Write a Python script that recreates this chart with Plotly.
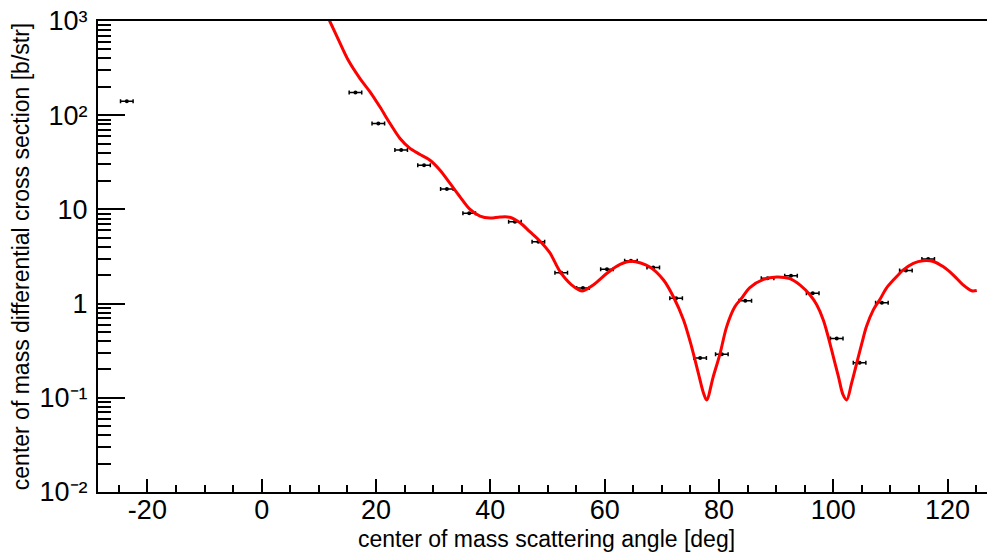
import plotly.graph_objects as go

# ---- data ----
angle = [-23.6, 16.4, 20.4, 24.4, 28.4, 32.4, 36.3, 44.3, 48.4, 52.4, 56.2, 60.4,
         64.6, 68.5, 72.5, 76.7, 80.5, 84.6, 88.5, 92.6, 96.4, 100.6, 104.6,
         108.5, 112.7, 116.6]
xsec = [141, 174, 81.7, 42.6, 29.5, 16.5, 9.08, 7.39, 4.54, 2.13, 1.46, 2.31,
        2.85, 2.41, 1.14, 0.264, 0.290, 1.07, 1.86, 1.98, 1.29, 0.425, 0.235,
        1.02, 2.24, 2.97]
angle_err = [1.1] * len(angle)

fit_angle = [10.8, 11.9, 13.5, 15.15, 17.2, 18.95, 20.7, 22.45, 24.2, 25.95, 27.7,
             29.45, 31.2, 32.95, 34.7, 36.45, 38.2, 39.95, 41.7, 43.4, 45.2, 46.9,
             48.7, 50.4, 52.2, 54.2, 56.0, 58.0, 60.4, 62.7, 64.7, 67.9, 70.3,
             72.0, 73.8, 75.2, 76.4, 77.3, 77.85, 79.0, 80.2, 81.35, 82.8, 84.0,
             85.4, 87.8, 90.1, 92.4, 94.2, 95.9, 97.1, 98.25, 99.1, 100.0, 100.9,
             101.7, 102.35, 103.2, 104.1, 105.0, 105.8, 107.0, 108.2, 109.3,
             110.8, 112.2, 114.0, 115.7, 117.5, 119.2, 121.0, 122.7, 124.2, 125.1]
fit_xsec = [1400, 1000, 620, 383, 245, 177, 122, 81.7, 56.6, 44.4, 38.3,
            33.3, 26.1, 18.9, 13.6, 10.0, 8.5, 8.1, 8.3, 8.25, 7.2, 5.8,
            4.6, 3.47, 2.18, 1.58, 1.36, 1.58, 2.1, 2.61, 2.82, 2.45, 1.78,
            1.19, 0.671, 0.35, 0.182, 0.112, 0.095, 0.168, 0.297, 0.57, 0.93, 1.15,
            1.48, 1.81, 1.92, 1.84, 1.57, 1.24, 0.97, 0.67, 0.447, 0.274, 0.168,
            0.108, 0.095, 0.143, 0.233, 0.38, 0.57, 0.857, 1.12, 1.46,
            1.86, 2.27, 2.68, 2.85, 2.80, 2.47, 2.01, 1.58, 1.37, 1.38]

x_major = [-20, 0, 20, 40, 60, 80, 100, 120]
x_minor = [-25, -15, -10, -5, 5, 10, 15, 25, 30, 35, 45, 50, 55, 65, 70, 75,
           85, 90, 95, 105, 110, 115, 125]
y_major = [0.01, 0.1, 1, 10, 100, 1000]
y_major_text = ["10\u207b\u00b2", "10\u207b\u00b9", "1", "10",
                "10\u00b2", "10\u00b3"]
y_minor = [m * d for d in [0.01, 0.1, 1, 10, 100] for m in range(2, 10)]

FONT = "Liberation Sans, Arial, Helvetica, sans-serif"

fig = go.Figure()
fig.add_trace(go.Scatter(
    x=angle, y=xsec, mode="markers",
    marker=dict(color="black", size=4, symbol="circle"),
    error_x=dict(type="data", array=angle_err, visible=True,
                 color="black", thickness=1.5, width=2),
    showlegend=False))
fig.add_trace(go.Scatter(
    x=fit_angle, y=fit_xsec, mode="lines",
    line=dict(color="#ff0000", width=3, shape="spline", smoothing=0.9),
    showlegend=False))

# the page body adds an 8 px offset, so the figure is laid out 8 px up/left
fig.update_layout(
    width=987, height=544,
    margin=dict(l=90, r=0, t=13, b=60),
    paper_bgcolor="white", plot_bgcolor="white",
    font=dict(family=FONT, color="black"),
    xaxis=dict(
        range=[-28.64, 128.29], showgrid=False, zeroline=False, automargin=False,
        showline=True, linecolor="black", linewidth=2, mirror=True,
        ticks="inside", ticklen=13, tickwidth=1.5, tickcolor="black",
        tickmode="array", tickvals=x_major,
        ticktext=[str(v) for v in x_major],
        tickfont=dict(size=27, family=FONT), ticklabelstandoff=-7,
        ticklabeloverflow="allow",
        minor=dict(tickmode="array", tickvals=x_minor, ticks="inside",
                   ticklen=7, tickwidth=1.5, tickcolor="black", showgrid=False),
        title=dict(text="center of mass scattering angle [deg]",
                   font=dict(size=23, family=FONT), standoff=12),
    ),
    yaxis=dict(
        type="log", range=[-2, 3.0001], showgrid=False, zeroline=False, automargin=False,
        showline=True, linecolor="black", linewidth=2, mirror=False,
        ticks="inside", ticklen=27, tickwidth=1.5, tickcolor="black",
        tickmode="array", tickvals=y_major, ticktext=y_major_text,
        tickfont=dict(size=27, family=FONT), ticklabelstandoff=3,
        ticklabeloverflow="allow",
        minor=dict(tickmode="array", tickvals=y_minor, ticks="inside",
                   ticklen=13, tickwidth=1.5, tickcolor="black", showgrid=False),
        title=dict(text="center of mass differential cross section [b/str]",
                   font=dict(size=23, family=FONT), standoff=4),
    ),
)

fig.write_html("out.html")
